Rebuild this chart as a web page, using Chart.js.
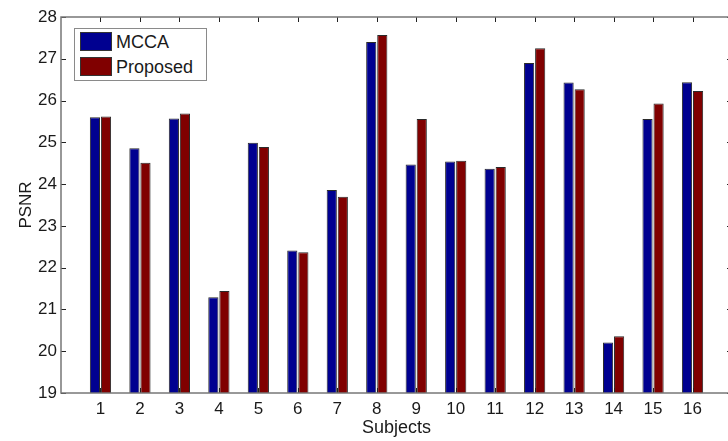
<!DOCTYPE html>
<html>
<head>
<meta charset="utf-8">
<script src="https://cdn.jsdelivr.net/npm/chart.js"></script>
<title>PSNR per subject</title>
<style>
	body { margin: 0; background: #fff; overflow: hidden; }
	.wrap { position: relative; width: 728px; height: 441px; overflow: hidden; }
	#legend {
		position: absolute; left: 74px; top: 28px; width: 131px; height: 51px;
		background: #fff; border: 1px solid #8a8a8a;
		font-family: "Liberation Sans", Arial, sans-serif; font-size: 18px; color: #1a1a1a;
	}
	#legend .item { position: absolute; left: 5px; height: 20px; line-height: 20px; white-space: nowrap; }
	#legend .sw { display: inline-block; width: 32px; height: 19px; border: 1px solid #333; box-sizing: border-box; vertical-align: top; margin-right: 4px; }
</style>
</head>
<body>
<div class="wrap">
	<canvas id="chart1" width="736" height="441"></canvas>
	<div id="legend"></div>
</div>
<script>
// data
var subjects = [1, 2, 3, 4, 5, 6, 7, 8, 9, 10, 11, 12, 13, 14, 15, 16];
var mcca     = [25.60, 24.86, 25.57, 21.29, 24.99, 22.41, 23.86, 27.40, 24.47, 24.54, 24.37, 26.90, 26.43, 20.21, 25.56, 26.44];
var proposed = [25.62, 24.51, 25.69, 21.44, 24.89, 22.37, 23.70, 27.57, 25.56, 24.56, 24.41, 27.25, 26.27, 20.36, 25.93, 26.23];
var seriesNames = ['MCCA', 'Proposed'];
var yTicks = [19, 20, 21, 22, 23, 24, 25, 26, 27, 28];

var font = "'Liberation Sans', Arial, sans-serif";

function points(vals) {
	return subjects.map(function (s, i) { return { x: s, y: vals[i] }; });
}

// matlab style box with inward ticks
var boxPlugin = {
	id: 'box',
	afterDatasetsDraw: function (chart) {
		var ctx = chart.ctx, a = chart.chartArea;
		var xs = chart.scales.x, ys = chart.scales.y;
		ctx.save();
		ctx.strokeStyle = '#222';
		ctx.lineWidth = 1;
		ctx.beginPath();
		ys.ticks.forEach(function (t) {
			var y = Math.round(ys.getPixelForValue(t.value)) + 0.5;
			ctx.moveTo(a.left, y); ctx.lineTo(a.left + 5, y);
			ctx.moveTo(a.right, y); ctx.lineTo(a.right - 5, y);
		});
		subjects.forEach(function (s) {
			var x = Math.round(xs.getPixelForValue(s)) + 0.5;
			ctx.moveTo(x, a.bottom); ctx.lineTo(x, a.bottom - 5);
			ctx.moveTo(x, a.top); ctx.lineTo(x, a.top + 5);
		});
		ctx.stroke();
		ctx.strokeStyle = '#777';
		ctx.lineWidth = 1.5;
		ctx.strokeRect(a.left, a.top, a.right - a.left, a.bottom - a.top);
		ctx.restore();
	}
};

var ctx = document.getElementById('chart1').getContext('2d');
var chart1 = new Chart(ctx, {
	type: 'bar',
	data: {
		datasets: [
			{ label: seriesNames[0], data: points(mcca), backgroundColor: '#000090', borderColor: '#2a2a2a', borderWidth: 1 },
			{ label: seriesNames[1], data: points(proposed), backgroundColor: '#800000', borderColor: '#2a2a2a', borderWidth: 1 }
		]
	},
	options: {
		responsive: false,
		animation: false,
		categoryPercentage: 0.56,
		barPercentage: 0.92,
		layout: { padding: { top: 17, right: 4, left: 0, bottom: 0 } },
		plugins: { legend: { display: false }, tooltip: { enabled: false } },
		scales: {
			x: {
				type: 'linear', min: 0, max: 17, offset: false,
				afterFit: function (s) { s.height = 48; },
				afterBuildTicks: function (s) { s.ticks = subjects.map(function (v) { return { value: v }; }); },
				grid: { display: false, drawTicks: false },
				border: { display: false },
				ticks: { padding: 6, color: '#1a1a1a', font: { family: font, size: 17 }, maxRotation: 0, autoSkip: false },
				title: { display: true, text: 'Subjects', color: '#1a1a1a', font: { family: font, size: 18 }, padding: { top: 0, bottom: 2 } }
			},
			y: {
				min: 19, max: 28,
				afterFit: function (s) { s.width = 61; },
				afterBuildTicks: function (s) { s.ticks = yTicks.map(function (v) { return { value: v }; }); },
				grid: { display: false, drawTicks: false },
				border: { display: false },
				ticks: { padding: 4, color: '#1a1a1a', font: { family: font, size: 17 } },
				title: { display: true, text: 'PSNR', color: '#1a1a1a', font: { family: font, size: 17 }, padding: { top: 16, bottom: 0 } }
			}
		}
	},
	plugins: [boxPlugin]
});

// legend inside the axes, built from the datasets
var leg = document.getElementById('legend');
chart1.data.datasets.forEach(function (ds, i) {
	var d = document.createElement('div');
	d.className = 'item';
	d.style.top = (3 + i * 25) + 'px';
	d.innerHTML = '<span class="sw" style="background:' + ds.backgroundColor + '"></span>' + ds.label;
	leg.appendChild(d);
});
</script>
</body>
</html>
